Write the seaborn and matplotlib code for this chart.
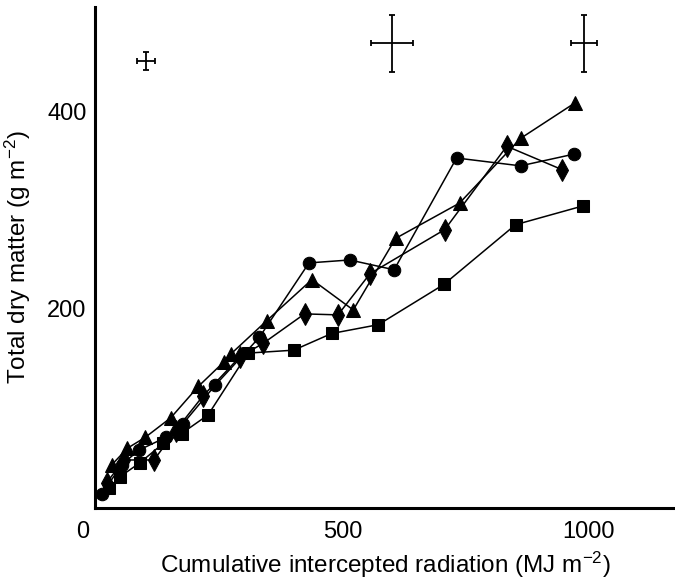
import numpy as np
import pandas as pd
import matplotlib
matplotlib.use("Agg")
import matplotlib.pyplot as plt
import matplotlib.transforms as mtransforms
import seaborn as sns

# ---- data ----
circle_x = [10, 50, 85, 140, 175, 240, 330, 431, 514, 604, 731, 861, 970]
circle_y = [10, 40, 55, 68, 82, 121, 170, 246, 249, 239, 353, 345, 357]

triangle_x = [30, 62, 98, 150, 206, 258, 272, 345, 437, 521, 607, 737, 861, 971]
triangle_y = [40, 57, 68, 88, 120, 145, 153, 187, 229, 198, 271, 307, 373, 409]

diamond_x = [20, 55, 116, 160, 215, 290, 338, 422, 490, 555, 707, 833, 946]
diamond_y = [22, 45, 45, 75, 110, 150, 164, 194, 193, 235, 280, 365, 341]

square_x = [24, 47, 87, 135, 172, 226, 307, 400, 477, 572, 705, 851, 987]
square_y = [16, 28, 42, 62, 72, 91, 154, 157, 174, 183, 224, 285, 304]

err_x = [100, 600, 990]
err_y = [452, 470, 470]
err_dx = [18, 43, 27]
err_dy = [9, 29, 29]

x_ticks = [0, 500, 1000]
y_ticks = [200, 400]

frames = []
for name, xs, ys in [("circle", circle_x, circle_y),
                     ("triangle", triangle_x, triangle_y),
                     ("diamond", diamond_x, diamond_y),
                     ("square", square_x, square_y)]:
    frames.append(pd.DataFrame({"x": xs, "y": ys, "series": name}))
df = pd.concat(frames, ignore_index=True)

sns.set_theme(style="white")
plt.rcParams["font.family"] = ["Liberation Sans", "DejaVu Sans"]
plt.rcParams["mathtext.fontset"] = "custom"
plt.rcParams["mathtext.rm"] = "Liberation Sans"
plt.rcParams["mathtext.it"] = "Liberation Sans"

fig = plt.figure(figsize=(6.75, 5.85), dpi=100)
ax = fig.add_axes([0.1407, 0.1316, 0.8593, 0.8564])

markers = {"circle": "o", "triangle": "^", "diamond": "d", "square": "s"}
sizes = {"circle": 9, "triangle": 10, "diamond": 11, "square": 8.5}
for name, sub in df.groupby("series", sort=False):
    sns.lineplot(data=sub, x="x", y="y", ax=ax, sort=False, estimator=None,
                 color="black", linewidth=1.1, marker=markers[name],
                 markersize=sizes[name], markeredgecolor="black",
                 markerfacecolor="black", legend=False)

ax.errorbar(err_x, err_y, xerr=err_dx, yerr=err_dy, fmt="none",
            ecolor="black", elinewidth=1.3, capsize=2.5, capthick=1.3)

ax.set_xlim(-4, 1175)
ax.set_ylim(-4, 507)

ax.set_xticks(x_ticks)
ax.set_xticklabels([str(v) for v in x_ticks])
ax.set_yticks(y_ticks)
ax.set_yticklabels([str(v) for v in y_ticks])

ax.tick_params(axis="both", direction="in", length=7, width=2,
               labelsize=17, color="black", labelcolor="black")
ax.tick_params(axis="x", pad=9)
ax.tick_params(axis="y", pad=6)
# hide the tick mark at 0, keep the label, nudge it left
ax.xaxis.get_major_ticks()[0].tick1line.set_visible(False)
offset = mtransforms.ScaledTranslation(-14 / 100, 0, fig.dpi_scale_trans)
lbl0 = ax.get_xticklabels()[0]
lbl0.set_transform(lbl0.get_transform() + offset)

for side in ["top", "right"]:
    ax.spines[side].set_visible(False)
for side in ["left", "bottom"]:
    ax.spines[side].set_linewidth(2.2)
    ax.spines[side].set_color("black")

ax.set_xlabel(r"Cumulative intercepted radiation (MJ m$^{-2}$)", fontsize=17.5,
              labelpad=5, color="black")
ax.set_ylabel(r"Total dry matter (g m$^{-2}$)", fontsize=17.5, labelpad=10,
              color="black")
ax.grid(False)

fig.savefig("out.png", dpi=100, facecolor="white")
